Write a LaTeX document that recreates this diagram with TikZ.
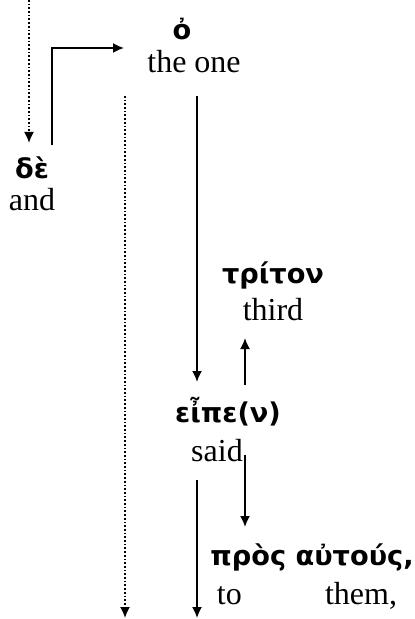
\documentclass[tikz,border=0pt]{standalone}
\usepackage{fontspec}
\setmainfont{Liberation Serif}
\newfontfamily\greekfont{DejaVu Sans}
\usetikzlibrary{positioning, arrows, arrows.meta}

\tikzset{
    greek/.style={font=\greekfont\bfseries\fontsize{13.6}{17}\selectfont, inner sep=0pt},
    gloss/.style={font=\fontsize{16}{19}\selectfont, inner sep=0pt},
    dots/.style={densely dotted}
}

\begin{document}
\begin{tikzpicture}[x=0.5pt, y=-0.5pt, >={Latex[length=5.5pt,width=5pt]}, line width=0.85pt]
    \useasboundingbox (0,0) rectangle (414,619);

    % words and glosses
    \node[greek] (de) at (32,168) {δὲ};
    \node[gloss] (deG) at (32,200) {and};
    \node[greek] (ho) at (182,29) {ὀ};
    \node[gloss] (hoG) at (194,62) {the one};
    \node[greek] (triton) at (273,275) {τρίτον};
    \node[gloss] (tritonG) at (273,310) {third};
    \node[greek] (eipe) at (228,412) {εἶπε(ν)};
    \node[gloss] (eipeG) at (217,451) {said};
    \node[greek] (pros) at (312,557) {πρὸς αὐτούς,};
    \node[gloss] (prosG) at (307,596) {to\hspace{2.6em}them,};

    % line ends
    \coordinate (c1) at (29,0);
    \coordinate (c2) at (29,143);
    \coordinate (c3) at (52,145);
    \coordinate (c4) at (124,48);
    \coordinate (c5) at (125,96);
    \coordinate (c6) at (125,618);
    \coordinate (c7) at (197,96);
    \coordinate (c8) at (197,382);
    \coordinate (c9) at (245,385);
    \coordinate (c10) at (245,338);
    \coordinate (c11) at (245,455);
    \coordinate (c12) at (245,527);
    \coordinate (c13) at (197,480);
    \coordinate (c14) at (197,618);

    \draw[->, dots] (c1) -- (c2);
    \draw[->] (c3) |- (c4);
    \draw[->, dots] (c5) -- (c6);
    \draw[->] (c7) -- (c8);
    \draw[->] (c9) -- (c10);
    \draw[->] (c11) -- (c12);
    \draw[->] (c13) -- (c14);
\end{tikzpicture}
\end{document}
